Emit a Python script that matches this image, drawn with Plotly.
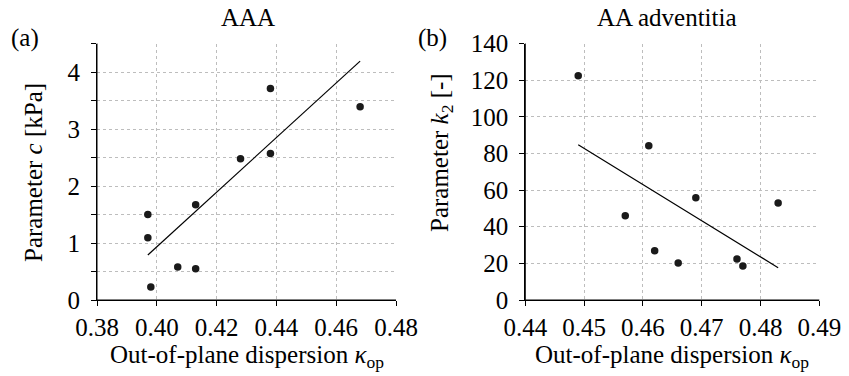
import plotly.graph_objects as go

# Panel (a): AAA, parameter c versus out-of-plane dispersion
aaa_kappa = [0.397, 0.397, 0.398, 0.407, 0.413, 0.413, 0.428, 0.438, 0.438, 0.468]
aaa_c = [1.50, 1.09, 0.23, 0.58, 0.55, 1.67, 2.48, 3.71, 2.57, 3.39]
aaa_fit_kappa = [0.397, 0.468]
aaa_fit_c = [0.79, 4.19]

# Panel (b): AA adventitia, parameter k2 versus out-of-plane dispersion
adv_kappa = [0.449, 0.457, 0.461, 0.462, 0.466, 0.469, 0.476, 0.477, 0.483]
adv_k2 = [122.4, 46.0, 84.2, 26.9, 20.2, 55.8, 22.4, 18.5, 52.9]
adv_fit_kappa = [0.449, 0.483]
adv_fit_k2 = [84.7, 17.6]

# Axis ticks
a_xticks = [0.38, 0.40, 0.42, 0.44, 0.46, 0.48]
a_xlabels = ["0.38", "0.40", "0.42", "0.44", "0.46", "0.48"]
a_yticks = [0, 0.5, 1, 1.5, 2, 2.5, 3, 3.5, 4, 4.5]
a_ylabels = ["0", " ", "1", " ", "2", " ", "3", " ", "4", " "]
b_xticks = [0.44, 0.45, 0.46, 0.47, 0.48, 0.49]
b_xlabels = ["0.44", "0.45", "0.46", "0.47", "0.48", "0.49"]
b_yticks = [0, 20, 40, 60, 80, 100, 120, 140]
b_ylabels = ["0", "20", "40", "60", "80", "100", "120", "140"]

W, H = 849, 376
FONT = "Liberation Serif"
FS = 25

# plot-area edges in pixels
A_LEFT, A_RIGHT = 97, 396
B_LEFT, B_RIGHT = 525.3, 819.3
TOP, BOTTOM = 43.5, 300


def px_x(p):
    return p / W


def px_y(p):
    return 1 - p / H


fig = go.Figure()

marker = dict(color="#1a1a1a", size=7.5)
fitline = dict(color="black", width=1.2)

fig.add_trace(go.Scatter(x=aaa_kappa, y=aaa_c, mode="markers", marker=marker,
                         xaxis="x", yaxis="y", showlegend=False))
fig.add_trace(go.Scatter(x=aaa_fit_kappa, y=aaa_fit_c, mode="lines", line=fitline,
                         xaxis="x", yaxis="y", showlegend=False))
fig.add_trace(go.Scatter(x=adv_kappa, y=adv_k2, mode="markers", marker=marker,
                         xaxis="x2", yaxis="y2", showlegend=False))
fig.add_trace(go.Scatter(x=adv_fit_kappa, y=adv_fit_k2, mode="lines", line=fitline,
                         xaxis="x2", yaxis="y2", showlegend=False))

tfont = dict(family=FONT, size=FS, color="black")


def axis_style(**kw):
    d = dict(showgrid=True, gridcolor="#bdbdbd", gridwidth=1, griddash="dot",
             showline=True, linecolor="black", linewidth=1,
             ticks="outside", ticklen=5, tickwidth=1, tickcolor="black",
             zeroline=False, automargin=False, tickfont=tfont, tickmode="array")
    d.update(kw)
    return d


ydom = [px_y(BOTTOM), px_y(TOP)]

fig.update_layout(
    xaxis=axis_style(domain=[px_x(A_LEFT), px_x(A_RIGHT)], range=[0.38, 0.48], anchor="y",
                     tickvals=a_xticks, ticktext=a_xlabels),
    yaxis=axis_style(domain=ydom, range=[0, 4.5], anchor="x",
                     tickvals=a_yticks, ticktext=a_ylabels, ticklabelstandoff=6),
    xaxis2=axis_style(domain=[px_x(B_LEFT), px_x(B_RIGHT)], range=[0.44, 0.49],
                      anchor="y2", tickvals=b_xticks, ticktext=b_xlabels),
    yaxis2=axis_style(domain=ydom, range=[0, 140], anchor="x2",
                      tickvals=b_yticks, ticktext=b_ylabels, ticklabelstandoff=6),
)

# Bottom and left spines for both panels
spine = dict(color="black", width=1)
for xa, ya in (("x2", "y2"), ("x", "y")):
    xd, yd = f"{xa} domain", f"{ya} domain"
    fig.add_shape(type="line", xref=xd, yref=yd, x0=0, x1=1, y0=0, y1=0, line=spine)
    fig.add_shape(type="line", xref=xd, yref=yd, x0=0, x1=0, y0=0, y1=1, line=spine)

xtitle = "Out-of-plane dispersion <i>κ</i><sub>op</sub>"


def label(text, x, y, angle=0):
    return dict(text=text, x=px_x(x), y=px_y(y), xref="paper", yref="paper",
                showarrow=False, font=tfont, xanchor="center", yanchor="middle",
                textangle=angle)


fig.update_layout(annotations=[
    label("AAA", 248, 18),
    label("AA adventitia", 667, 18),
    label("(a)", 25, 38),
    label("(b)", 433, 38),
    label(xtitle, 247, 356),
    label(xtitle, 672, 356),
    label("Parameter <i>c</i> [kPa]", 33, 173, -90),
    label("Parameter <i>k</i><sub>2</sub> [-]", 441, 153, -90),
])

fig.update_layout(width=W, height=H, margin=dict(l=0, r=0, t=0, b=0),
                  plot_bgcolor="white", paper_bgcolor="white",
                  font=tfont)

fig.write_html("out.html")
